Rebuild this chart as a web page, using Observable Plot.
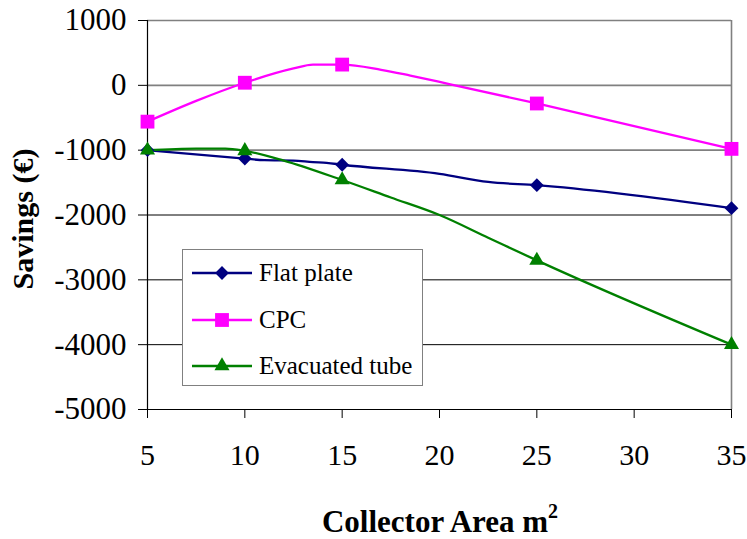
<!DOCTYPE html>
<html>
<head>
<meta charset="utf-8">
<script src="https://cdn.jsdelivr.net/npm/d3@7"></script>
<script src="https://cdn.jsdelivr.net/npm/@observablehq/plot@0.6"></script>
<style>
  html, body { margin: 0; padding: 0; background: #fff; }
  #chart { position: relative; width: 747px; height: 539px; font-family: "Liberation Serif", Tinos, "Times New Roman", Times, "Noto Serif", "DejaVu Serif", serif; }
  #chart svg text { font-family: "Liberation Serif", Tinos, "Times New Roman", Times, "Noto Serif", "DejaVu Serif", serif; }
  #legend { position: absolute; left: 182px; top: 249px; width: 239px; height: 135px; border: 1.5px solid #808080; background: #fff; }
  .item { position: absolute; left: 0; height: 30px; display: flex; align-items: center; }
  .item svg { display: block; margin-left: 8px; }
  .item span { font-size: 25px; margin-left: 6px; color: #000; white-space: nowrap; font-family: "Liberation Serif", Tinos, "Times New Roman", Times, "Noto Serif", "DejaVu Serif", serif; }
</style>
</head>
<body>
<div id="chart"></div>
<script>
// ---- data ----
const seriesNames = ["Flat plate", "CPC", "Evacuated tube"];
const seriesColors = ["#000080", "#FF00FF", "#008000"];
const seriesSymbols = ["diamond2", "square", "triangle"];
const markerRadius = [6.2, 7.8, 5.6];

const flatArea = [5, 10, 11, 12.5, 13.5, 14.2, 15, 20, 22.5, 25, 35];
const flatSavings = [-1000, -1130, -1155, -1160, -1185, -1195, -1225, -1365, -1490, -1540, -1895];

const cpcArea = [5, 7.5, 10, 12.5, 13.5, 15, 17, 18.5, 20.5, 25, 35];
const cpcSavings = [-560, -240, 40, 260, 320, 320, 240, 150, 20, -280, -980];

const tubeArea = [5, 7.5, 9, 10, 12, 15, 17.5, 20, 22.5, 25, 35];
const tubeSavings = [-1000, -975, -975, -1010, -1160, -1460, -1730, -2000, -2350, -2700, -4000];

const markerAreas = [5, 10, 15, 25, 35];
const xTicks = [5, 10, 15, 20, 25, 30, 35];
const yTicks = [1000, 0, -1000, -2000, -3000, -4000, -5000];

const FONT = "'Liberation Serif', Tinos, 'Times New Roman', Times, 'Noto Serif', 'DejaVu Serif', serif";

// ---- build table ----
const areas = [flatArea, cpcArea, tubeArea];
const savings = [flatSavings, cpcSavings, tubeSavings];
const rows = [];
seriesNames.forEach((name, i) => {
  areas[i].forEach((a, j) => rows.push({series: name, area: a, savings: savings[i][j]}));
});

const dotMarks = seriesNames.map((name, i) =>
  Plot.dot(rows.filter(d => d.series === name && markerAreas.includes(d.area)), {
    x: "area", y: "savings", symbol: () => seriesSymbols[i], fill: seriesColors[i],
    stroke: "none", r: markerRadius[i]
  })
);

const plot = Plot.plot({
  width: 747,
  height: 539,
  marginLeft: 147,
  marginRight: 16,
  marginTop: 20,
  marginBottom: 130,
  style: {fontFamily: FONT, background: "#fff", color: "#000", overflow: "visible"},
  x: {domain: [5, 35]},
  y: {domain: [-5000, 1000]},
  symbol: {type: "identity"},
  marks: [
    Plot.gridY(yTicks.filter(t => t >= -1000), {stroke: "#808080", strokeOpacity: 1, strokeWidth: 1.6}),
    Plot.gridY(yTicks.filter(t => t < -1000 && t > -5000), {stroke: "#000", strokeOpacity: 1, strokeWidth: 1}),
    Plot.ruleX([35], {stroke: "#808080", strokeWidth: 1.6}),
    Plot.axisY(yTicks, {tickSize: 9, tickPadding: 12, fontSize: 31, fontFamily: FONT, tickFormat: d => String(d), label: null, stroke: "#000"}),
    Plot.axisX(xTicks, {tickSize: 9, tickPadding: 25, fontSize: 30, fontFamily: FONT, tickFormat: d => String(d), label: null, stroke: "#000"}),
    Plot.ruleX([5], {stroke: "#000", strokeWidth: 1.2}),
    Plot.ruleY([-5000], {stroke: "#000", strokeWidth: 1.2}),
    Plot.line(rows, {x: "area", y: "savings", z: "series", stroke: d => seriesColors[seriesNames.indexOf(d.series)], strokeWidth: 2.3, curve: "monotone-x"}),
    ...dotMarks
  ]
});

const chart = document.getElementById("chart");
chart.appendChild(plot);

// axis titles
const svg = d3.select(plot);
svg.append("text")
  .attr("transform", "translate(33,219) rotate(-90)")
  .attr("text-anchor", "middle")
  .attr("font-family", FONT)
  .attr("font-size", 30)
  .attr("font-weight", "bold")
  .attr("fill", "#000")
  .text("Savings (€)");
const xt = svg.append("text")
  .attr("x", 440).attr("y", 532)
  .attr("text-anchor", "middle")
  .attr("font-family", FONT)
  .attr("font-size", 31)
  .attr("font-weight", "bold")
  .attr("fill", "#000");
xt.append("tspan").text("Collector Area m");
xt.append("tspan").attr("dy", -14).attr("font-size", 20).text("2");

// legend
const legend = document.createElement("div");
legend.id = "legend";
const rowTops = [8, 55, 101];
seriesNames.forEach((name, i) => {
  const item = document.createElement("div");
  item.className = "item";
  item.style.top = rowTops[i] + "px";
  const s = d3.create("svg").attr("width", 62).attr("height", 30);
  s.append("line").attr("x1", 1).attr("x2", 61).attr("y1", 15).attr("y2", 15)
    .attr("stroke", seriesColors[i]).attr("stroke-width", 2.3);
  const symType = [d3.symbolDiamond2, d3.symbolSquare, d3.symbolTriangle][i];
  const rr = markerRadius[i];
  s.append("path").attr("transform", "translate(31,15)")
    .attr("d", d3.symbol(symType, rr * rr * Math.PI)())
    .attr("fill", seriesColors[i]);
  item.appendChild(s.node());
  const t = document.createElement("span");
  t.textContent = name;
  item.appendChild(t);
  legend.appendChild(item);
});
chart.appendChild(legend);
</script>
</body>
</html>
